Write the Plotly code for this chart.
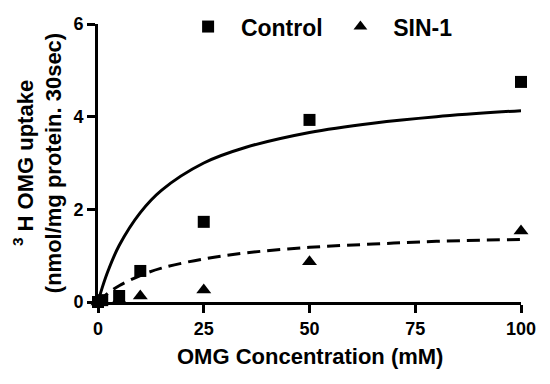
import plotly.graph_objects as go

# Measured data points
conc_control = [0, 1, 5, 10, 25, 50, 100]
uptake_control = [0.0, 0.04, 0.13, 0.67, 1.73, 3.93, 4.75]
conc_sin = [0, 1, 5, 10, 25, 50, 100]
uptake_sin = [0.0, 0.02, 0.05, 0.13, 0.26, 0.87, 1.53]

# Fitted curves
curve_x = [0, 1, 2.5, 5, 10, 15, 25, 35, 50, 65, 80, 100]
curve_control = [0.0, 0.31, 0.70, 1.22, 1.93, 2.41, 3.0, 3.34, 3.66, 3.86, 4.0, 4.13]
curve_sin = [0.0, 0.08, 0.20, 0.35, 0.57, 0.73, 0.93, 1.06, 1.18, 1.25, 1.31, 1.35]

x_ticks = [0, 25, 50, 75, 100]
y_ticks = [0, 2, 4, 6]

FONT = "Liberation Sans, Arial, sans-serif"

fig = go.Figure()
fig.add_trace(go.Scatter(x=curve_x, y=curve_control, mode="lines", line=dict(color="black", width=3, shape="spline"),
                         showlegend=False, hoverinfo="skip", cliponaxis=False))
fig.add_trace(go.Scatter(x=curve_x, y=curve_sin, mode="lines",
                         line=dict(color="black", width=3, shape="spline", dash="13px,7px"),
                         showlegend=False, hoverinfo="skip", cliponaxis=False))
fig.add_trace(go.Scatter(x=conc_control, y=uptake_control, mode="markers", name="\u00a0\u00a0Control\u00a0\u00a0",
                         marker=dict(symbol="square", size=12, color="black"), cliponaxis=False))
fig.add_trace(go.Scatter(x=conc_sin, y=uptake_sin, mode="markers", name="\u00a0\u00a0SIN-1",
                         marker=dict(symbol="triangle-up", size=13, color="black"), cliponaxis=False))

fig.update_layout(
    width=550, height=384,
    margin=dict(l=98, r=29, t=24, b=82, autoexpand=False),
    plot_bgcolor="white", paper_bgcolor="white",
    font=dict(family=FONT, color="black"),
    legend=dict(orientation="h", x=0.213, xanchor="left", y=1.068, yanchor="top",
                font=dict(size=23, family=FONT, weight="bold"), bgcolor="rgba(0,0,0,0)",
                itemsizing="constant"),
    xaxis=dict(range=[0, 100], tickvals=x_ticks, ticktext=[str(v) for v in x_ticks], automargin=False,
               showline=True, linecolor="black", linewidth=3, ticks="outside", ticklen=8, tickwidth=3,
               tickcolor="black", showgrid=False, zeroline=False,
               tickfont=dict(size=18, family=FONT, weight="bold")),
    yaxis=dict(range=[0, 6], tickvals=y_ticks, ticktext=[str(v) for v in y_ticks], automargin=False,
               showline=True, linecolor="black", linewidth=3, ticks="outside", ticklen=8, tickwidth=3,
               tickcolor="black", showgrid=False, zeroline=False,
               tickfont=dict(size=18, family=FONT, weight="bold"),
               title=dict(text="<b><sup>3</sup> H OMG uptake<br>(nmol/mg protein. 30sec)</b>",
                          font=dict(size=22, family=FONT), standoff=6)),
    annotations=[dict(text="<b>OMG Concentration (mM)</b>", xref="paper", yref="paper", x=0.5, y=0,
                      xanchor="center", yanchor="middle", yshift=-54, showarrow=False,
                      font=dict(size=22, family=FONT))],
)

fig.write_html("out.html", config={"displayModeBar": False},
               post_script="document.body.style.margin='0';")
